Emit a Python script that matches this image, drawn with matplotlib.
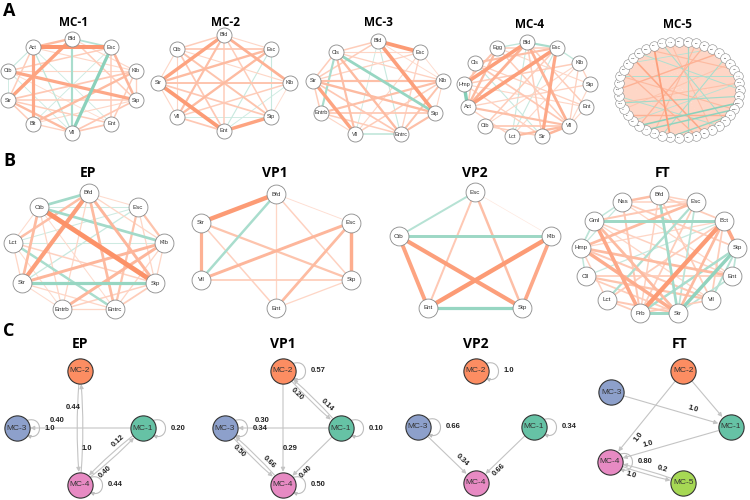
import numpy as np
import matplotlib.pyplot as plt
import matplotlib.colors as mcolors
from matplotlib.collections import LineCollection
from matplotlib.patches import FancyArrowPatch
from matplotlib.path import Path
from itertools import combinations

plt.rcParams['font.family'] = ['Liberation Sans', 'DejaVu Sans']
TITLE_FONT = ['Open Sans', 'DejaVu Sans']

POS_COL = '#fc8d62'
NEG_COL = '#66c2a5'
MC_COLORS = {'MC-1': '#66c2a5', 'MC-2': '#fc8d62', 'MC-3': '#8da0cb',
             'MC-4': '#e78ac3', 'MC-5': '#a6d854'}

# ---------------- A: 各微生物群落的共现网络 ----------------
mc1_nodes = ['Bfd', 'Esc', 'Klb', 'Stp', 'Ent', 'Vll', 'Blt', 'Str', 'Ctb', 'Act']
mc1_edges = [('Act', 'Esc', 0.9), ('Bfd', 'Str', 0.75), ('Act', 'Blt', 0.7), ('Ctb', 'Stp', 0.7),
             ('Esc', 'Vll', -0.7), ('Bfd', 'Vll', -0.45), ('Bfd', 'Esc', -0.35), ('Esc', 'Stp', 0.55),
             ('Str', 'Vll', 0.5), ('Klb', 'Blt', 0.5), ('Act', 'Bfd', 0.5), ('Str', 'Klb', 0.35),
             ('Act', 'Str', 0.3), ('Ctb', 'Esc', 0.3), ('Act', 'Vll', -0.25), ('Ctb', 'Act', -0.2),
             ('Str', 'Ent', 0.3), ('Stp', 'Vll', 0.35), ('Ent', 'Esc', 0.3), ('Blt', 'Vll', 0.25),
             ('Klb', 'Ent', 0.3), ('Klb', 'Stp', 0.25), ('Bfd', 'Stp', 0.3), ('Ctb', 'Vll', -0.15),
             ('Str', 'Stp', 0.3), ('Blt', 'Stp', 0.2), ('Ctb', 'Klb', 0.2), ('Act', 'Klb', 0.2),
             ('Act', 'Ent', -0.15), ('Str', 'Blt', 0.3), ('Ctb', 'Str', -0.15), ('Vll', 'Ent', 0.35),
             ('Blt', 'Esc', -0.15), ('Bfd', 'Klb', 0.2), ('Ctb', 'Ent', 0.15)]

mc2_nodes = ['Bfd', 'Esc', 'Klb', 'Stp', 'Ent', 'Vll', 'Str', 'Ctb']
mc2_edges = [('Bfd', 'Str', 0.75), ('Str', 'Ent', 0.85), ('Ent', 'Stp', 0.75), ('Bfd', 'Klb', 0.6),
             ('Str', 'Esc', 0.5), ('Str', 'Klb', 0.4), ('Ctb', 'Esc', 0.35), ('Ctb', 'Stp', 0.4),
             ('Ctb', 'Ent', 0.35), ('Vll', 'Bfd', 0.45), ('Vll', 'Esc', 0.5), ('Vll', 'Ent', 0.35),
             ('Bfd', 'Ent', 0.3), ('Ctb', 'Bfd', 0.3), ('Str', 'Stp', 0.35), ('Vll', 'Klb', 0.3),
             ('Esc', 'Stp', -0.2), ('Ent', 'Esc', -0.2), ('Vll', 'Stp', -0.15), ('Ctb', 'Klb', 0.2),
             ('Str', 'Vll', 0.2), ('Bfd', 'Esc', 0.2), ('Klb', 'Stp', 0.15), ('Ent', 'Klb', -0.15),
             ('Ctb', 'Vll', 0.2), ('Ctb', 'Str', 0.2), ('Bfd', 'Stp', 0.3)]

mc3_nodes = ['Bfd', 'Esc', 'Klb', 'Stp', 'Entrc', 'Vll', 'Entrb', 'Str', 'Cls']
mc3_edges = [('Bfd', 'Esc', 0.85), ('Bfd', 'Stp', 0.8), ('Cls', 'Stp', -0.6), ('Cls', 'Entrb', -0.45),
             ('Str', 'Vll', 0.75), ('Cls', 'Entrc', 0.5), ('Cls', 'Vll', 0.45), ('Str', 'Klb', 0.45),
             ('Str', 'Stp', 0.5), ('Entrb', 'Klb', 0.45), ('Vll', 'Entrc', -0.3), ('Entrc', 'Stp', 0.45),
             ('Cls', 'Klb', 0.25), ('Cls', 'Bfd', 0.3), ('Bfd', 'Entrc', -0.2), ('Bfd', 'Str', 0.3),
             ('Entrb', 'Stp', 0.35), ('Str', 'Entrb', 0.3), ('Str', 'Entrc', 0.35), ('Klb', 'Vll', 0.3),
             ('Esc', 'Entrc', 0.25), ('Esc', 'Str', 0.25), ('Cls', 'Str', 0.3), ('Bfd', 'Vll', -0.15),
             ('Esc', 'Klb', 0.15), ('Klb', 'Stp', 0.2), ('Entrb', 'Vll', 0.2), ('Esc', 'Vll', 0.2),
             ('Cls', 'Esc', 0.2), ('Bfd', 'Klb', 0.15), ('Entrb', 'Entrc', 0.3), ('Klb', 'Entrc', 0.4)]

mc4_nodes = ['Bfd', 'Esc', 'Klb', 'Stp', 'Ent', 'Vll', 'Str', 'Lct', 'Ctb', 'Act', 'Hmp', 'Cls', 'Egg']
mc4_edges = [('Hmp', 'Bfd', 0.8), ('Act', 'Esc', 0.8), ('Act', 'Bfd', 0.6), ('Hmp', 'Act', -0.75),
             ('Esc', 'Str', 0.7), ('Bfd', 'Vll', 0.6), ('Lct', 'Vll', 0.5), ('Str', 'Vll', 0.55),
             ('Bfd', 'Esc', -0.45), ('Egg', 'Act', 0.5), ('Cls', 'Esc', 0.45), ('Egg', 'Hmp', 0.4),
             ('Act', 'Vll', 0.45), ('Ctb', 'Vll', 0.35), ('Esc', 'Klb', -0.25), ('Klb', 'Stp', 0.25),
             ('Bfd', 'Ent', 0.3), ('Egg', 'Vll', 0.3), ('Cls', 'Vll', 0.35), ('Esc', 'Lct', -0.2),
             ('Bfd', 'Str', 0.3), ('Hmp', 'Klb', 0.3), ('Act', 'Stp', 0.25), ('Ctb', 'Esc', 0.3),
             ('Cls', 'Ent', 0.25), ('Egg', 'Stp', 0.2), ('Lct', 'Klb', 0.2), ('Ctb', 'Str', 0.3),
             ('Act', 'Lct', 0.25), ('Hmp', 'Ent', 0.2), ('Cls', 'Str', -0.2), ('Egg', 'Bfd', -0.25),
             ('Stp', 'Vll', 0.2), ('Ent', 'Vll', 0.2), ('Bfd', 'Lct', -0.2), ('Klb', 'Vll', 0.25),
             ('Egg', 'Esc', 0.3), ('Hmp', 'Str', 0.25), ('Ctb', 'Klb', 0.2), ('Cls', 'Act', 0.3)]

mc5_nodes = ['Bfd', 'Esc', 'Klb', 'Stp', 'Ent', 'Vll', 'Str', 'Lct', 'Ctb', 'Act', 'Hmp',
             'Cls', 'Egg', 'Entrb', 'Entrc', 'Bct', 'Nss', 'Gml', 'Cll', 'Prb', 'Blt', 'Rth',
             'Prv', 'Rmn', 'Fcl', 'Akk', 'Alt', 'Dlp', 'Pst', 'Srr', 'Ctr', 'Cmp', 'Crn', 'Fsb',
             'Lcn', 'Mgs', 'Ppt', 'Prt', 'Rsb', 'Snd', 'Sbd', 'Trp', 'Wss', 'Ach']
# 强相关边（节点序号），其余节点对为弱正相关
mc5_strong = [(41, 23, 0.8), (38, 19, 0.7), (5, 33, 0.6), (29, 15, 0.6), (3, 27, 0.55),
              (40, 8, 0.5), (36, 20, 0.55), (2, 25, 0.5), (43, 18, 0.45), (31, 10, 0.45),
              (7, 30, 0.4), (35, 14, 0.5), (13, 27, -0.7), (14, 26, -0.65), (12, 31, -0.5),
              (1, 21, -0.5), (42, 16, -0.45), (39, 11, -0.4), (6, 24, -0.45), (9, 35, -0.4),
              (15, 23, -0.6), (10, 28, -0.35), (4, 37, -0.35), (17, 32, -0.4)]
mc5_weak_weight = 0.2

# ---------------- B: 各时期的共现网络 ----------------
ep_nodes = ['Bfd', 'Esc', 'Klb', 'Stp', 'Entrc', 'Entrb', 'Str', 'Lct', 'Ctb']
ep_edges = [('Ctb', 'Stp', 0.95), ('Bfd', 'Str', 0.8), ('Ctb', 'Bfd', -0.5), ('Ctb', 'Klb', -0.5),
            ('Str', 'Stp', -0.6), ('Lct', 'Entrc', -0.45), ('Bfd', 'Stp', 0.55), ('Bfd', 'Entrc', 0.5),
            ('Str', 'Klb', 0.55), ('Entrb', 'Klb', 0.55), ('Ctb', 'Str', 0.5), ('Lct', 'Bfd', 0.45),
            ('Esc', 'Entrc', 0.4), ('Esc', 'Klb', 0.4), ('Lct', 'Stp', 0.25), ('Str', 'Esc', -0.2),
            ('Lct', 'Klb', -0.15), ('Str', 'Entrc', 0.2), ('Entrb', 'Stp', 0.25), ('Entrc', 'Stp', 0.3),
            ('Lct', 'Esc', -0.15), ('Ctb', 'Entrb', 0.2), ('Bfd', 'Esc', 0.15), ('Str', 'Entrb', 0.15),
            ('Lct', 'Str', 0.2), ('Entrb', 'Entrc', 0.2), ('Bfd', 'Entrb', 0.2), ('Ctb', 'Esc', -0.15),
            ('Lct', 'Ctb', 0.15), ('Bfd', 'Klb', 0.2), ('Klb', 'Stp', 0.2), ('Esc', 'Stp', 0.2),
            ('Klb', 'Entrc', 0.2), ('Lct', 'Entrb', 0.15), ('Ctb', 'Entrc', 0.15)]

vp1_nodes = ['Bfd', 'Esc', 'Stp', 'Ent', 'Vll', 'Str']
vp1_edges = [('Bfd', 'Str', 0.85), ('Str', 'Vll', 0.6), ('Esc', 'Stp', 0.65), ('Vll', 'Esc', 0.55),
             ('Ent', 'Esc', 0.5), ('Str', 'Stp', 0.4), ('Vll', 'Bfd', -0.45), ('Vll', 'Stp', 0.3),
             ('Bfd', 'Ent', 0.2), ('Bfd', 'Esc', 0.12), ('Bfd', 'Stp', 0.25), ('Str', 'Ent', 0.25),
             ('Ent', 'Stp', 0.2)]

vp2_nodes = ['Esc', 'Klb', 'Stp', 'Ent', 'Ctb']
vp2_edges = [('Ctb', 'Klb', -0.55), ('Ent', 'Stp', -0.6), ('Esc', 'Ctb', -0.35), ('Ctb', 'Ent', 0.75),
             ('Ctb', 'Stp', 0.8), ('Ent', 'Klb', 0.85), ('Klb', 'Stp', 0.7), ('Esc', 'Ent', 0.35),
             ('Esc', 'Stp', 0.45), ('Esc', 'Klb', 0.05)]

ft_nodes = ['Bfd', 'Esc', 'Bct', 'Stp', 'Ent', 'Vll', 'Str', 'Prb', 'Lct', 'Cll', 'Hmp', 'Gml', 'Nss']
ft_edges = [('Gml', 'Bct', -0.55), ('Bct', 'Prb', 0.85), ('Bct', 'Stp', 0.7), ('Gml', 'Prb', 0.7),
            ('Hmp', 'Str', 0.65), ('Hmp', 'Ent', 0.5), ('Stp', 'Str', -0.65), ('Stp', 'Prb', -0.45),
            ('Bfd', 'Str', -0.5), ('Esc', 'Hmp', 0.5), ('Esc', 'Lct', -0.4), ('Nss', 'Bfd', 0.45),
            ('Bct', 'Str', 0.5), ('Gml', 'Str', 0.5), ('Cll', 'Vll', 0.4), ('Prb', 'Str', -0.55),
            ('Lct', 'Str', 0.35), ('Hmp', 'Vll', 0.35), ('Nss', 'Stp', 0.3), ('Bfd', 'Bct', 0.3),
            ('Esc', 'Gml', 0.35), ('Gml', 'Hmp', -0.3), ('Vll', 'Stp', -0.35), ('Ent', 'Cll', 0.3),
            ('Nss', 'Prb', 0.35), ('Bfd', 'Vll', 0.3), ('Lct', 'Bct', 0.3), ('Hmp', 'Cll', -0.25),
            ('Nss', 'Gml', -0.25), ('Bct', 'Vll', 0.3), ('Ent', 'Str', -0.3), ('Esc', 'Prb', 0.3),
            ('Gml', 'Ent', 0.25), ('Cll', 'Str', 0.3), ('Nss', 'Hmp', -0.2), ('Bfd', 'Esc', 0.25),
            ('Nss', 'Esc', 0.25), ('Lct', 'Prb', 0.3), ('Hmp', 'Bct', 0.2), ('Stp', 'Ent', -0.3),
            ('Bfd', 'Prb', 0.25), ('Gml', 'Vll', 0.2), ('Cll', 'Bct', -0.2), ('Lct', 'Hmp', 0.25),
            ('Nss', 'Ent', 0.2), ('Esc', 'Str', -0.3), ('Prb', 'Vll', 0.3)]

# ---------------- C: 群落间转移概率 ----------------
ep_trans = [('MC-1', 'MC-1', '0.20'), ('MC-1', 'MC-3', '0.40'), ('MC-1', 'MC-4', '0.40'),
            ('MC-2', 'MC-4', '1.0'), ('MC-3', 'MC-3', '1.0'), ('MC-4', 'MC-4', '0.44'),
            ('MC-4', 'MC-2', '0.44'), ('MC-4', 'MC-1', '0.12')]
vp1_trans = [('MC-1', 'MC-1', '0.10'), ('MC-1', 'MC-2', '0.20'), ('MC-1', 'MC-3', '0.30'),
             ('MC-1', 'MC-4', '0.40'), ('MC-2', 'MC-2', '0.57'), ('MC-2', 'MC-1', '0.14'),
             ('MC-2', 'MC-4', '0.29'), ('MC-3', 'MC-3', '0.34'), ('MC-3', 'MC-4', '0.66'),
             ('MC-4', 'MC-4', '0.50'), ('MC-4', 'MC-3', '0.50')]
vp2_trans = [('MC-1', 'MC-1', '0.34'), ('MC-1', 'MC-4', '0.66'), ('MC-2', 'MC-2', '1.0'),
             ('MC-3', 'MC-3', '0.66'), ('MC-3', 'MC-4', '0.34')]
ft_trans = [('MC-2', 'MC-4', '1.0'), ('MC-2', 'MC-1', None), ('MC-3', 'MC-1', '1.0'),
            ('MC-1', 'MC-4', '1.0'), ('MC-4', 'MC-4', '0.80'), ('MC-4', 'MC-5', '0.2'),
            ('MC-5', 'MC-4', '1.0')]

diamond = {'MC-2': (0, 1), 'MC-1': (1, 0), 'MC-3': (-1, 0), 'MC-4': (0, -1)}
ft_layout = {'MC-2': (0.2, 1), 'MC-3': (-0.8, 0.62), 'MC-1': (0.86, 0),
             'MC-4': (-0.82, -0.62), 'MC-5': (0.2, -1)}


def edge_style(w, scale):
    t = min(abs(w), 1.0)
    base = np.array(mcolors.to_rgb(POS_COL if w > 0 else NEG_COL))
    a = 0.2 + 0.8 * t
    return 1 - (1 - base) * a, (0.2 + 3.0 * t) * scale


def circle_layout(nodes, cx, cy, rx, ry):
    ang = np.deg2rad(90 - 360 * np.arange(len(nodes)) / len(nodes))
    return {k: (cx + rx * np.cos(a), cy - ry * np.sin(a)) for k, a in zip(nodes, ang)}


def draw_cor_net(ax, nodes, edges, box, node_s, font, wscale=1.0, lw_node=0.6):
    pos = circle_layout(nodes, *box)
    segs, cols, lws = [], [], []
    for a, b, w in sorted(edges, key=lambda e: abs(e[2])):
        c, lw = edge_style(w, wscale)
        segs.append([pos[a], pos[b]])
        cols.append(c)
        lws.append(lw)
    ax.add_collection(LineCollection(segs, colors=cols, linewidths=lws, capstyle='butt', zorder=2))
    xs, ys = zip(*pos.values())
    ax.scatter(xs, ys, s=node_s, c='white', edgecolors='#8a8a8a', linewidths=lw_node, zorder=4)
    for k, (x, y) in pos.items():
        ax.text(x, y, k, fontsize=font, ha='center', va='center', color='#333333', zorder=5)


def draw_markov(ax, trans, layout, cx, cy, sx, sy):
    pos = {k: (cx + sx * u, cy - sy * v) for k, (u, v) in layout.items()}
    pairs = {(s, d) for s, d, _ in trans}
    r = 12.5
    for s, d, lab in trans:
        x1, y1 = pos[s]
        if s == d:
            verts = [(x1 + r * 0.8, y1 - r * 0.6), (x1 + r + 14, y1 - 13),
                     (x1 + r + 14, y1 + 13), (x1 + r * 0.8, y1 + r * 0.6)]
            path = Path(verts, [Path.MOVETO, Path.CURVE4, Path.CURVE4, Path.CURVE4])
            ax.add_patch(FancyArrowPatch(path=path, arrowstyle='-|>', mutation_scale=5,
                                         color='#bdbdbd', lw=0.8, zorder=2))
            ax.text(x1 + r + 15, y1, lab, ha='left', va='center', fontsize=5.5,
                    fontweight='bold', color='#222222')
            continue
        x2, y2 = pos[d]
        paired = (d, s) in pairs
        rad = 0.05 if paired else 0.0
        ax.add_patch(FancyArrowPatch((x1, y1), (x2, y2), arrowstyle='-|>', mutation_scale=6,
                                     connectionstyle=f'arc3,rad={rad}', shrinkA=9.5, shrinkB=9.5,
                                     color='#c4c4c4', lw=0.8, zorder=2))
        if lab is None:
            continue
        dx, dy = x2 - x1, y2 - y1
        L = np.hypot(dx, dy)
        hx, hy = dx / L, dy / L
        ang = np.degrees(np.arctan2(-dy, dx))
        if ang > 90:
            ang -= 180
        elif ang < -90:
            ang += 180
        # 标签偏移：成对边放在弯曲一侧，近水平单边放在上方
        if not paired and abs(ang) < 25:
            ox, oy = (0, -7)
        else:
            ox, oy = 7 * hy, -7 * hx
        t = 0.68
        lx, ly = x1 + t * dx + ox, y1 + t * dy + oy
        if abs(ang) > 65:
            ang = 0
        ax.text(lx, ly, lab, ha='center', va='center', rotation=ang, fontsize=5.5,
                fontweight='bold', color='#222222', zorder=3)
    for k, (x, y) in pos.items():
        ax.scatter(x, y, s=330, c=MC_COLORS[k], edgecolors='#333333', linewidths=0.8, zorder=4)
        ax.text(x, y, k, fontsize=6, ha='center', va='center', color='#333333', zorder=5)


fig = plt.figure(figsize=(7.5, 5), dpi=100)
ax = fig.add_axes([0, 0, 1, 1])
ax.set_xlim(0, 750)
ax.set_ylim(500, 0)
ax.axis('off')

# A
draw_cor_net(ax, mc1_nodes, mc1_edges, (72, 85.5, 67, 47), 117, 4)
draw_cor_net(ax, mc2_nodes, mc2_edges, (224, 83, 66, 48), 117, 4)
draw_cor_net(ax, mc3_nodes, mc3_edges, (378, 89, 66, 48), 117, 4)
draw_cor_net(ax, mc4_nodes, mc4_edges, (527, 90, 63.5, 47.7), 117, 4)
mc5_edges = [(mc5_nodes[i], mc5_nodes[j], w) for i, j, w in mc5_strong]
strong_pairs = {frozenset((i, j)) for i, j, _ in mc5_strong}
mc5_edges += [(mc5_nodes[i], mc5_nodes[j], mc5_weak_weight)
              for i, j in combinations(range(len(mc5_nodes)), 2)
              if frozenset((i, j)) not in strong_pairs]
draw_cor_net(ax, mc5_nodes, mc5_edges, (679, 89.5, 61, 48), 48, 1.7, wscale=0.5, lw_node=0.4)

# B
draw_cor_net(ax, ep_nodes, ep_edges, (88.5, 253, 77, 60), 185, 4.5, wscale=1.15)
draw_cor_net(ax, vp1_nodes, vp1_edges, (276, 251, 86.6, 57), 185, 4.5, wscale=1.15)
draw_cor_net(ax, vp2_nodes, vp2_edges, (475, 256, 80, 64), 185, 4.5, wscale=1.15)
draw_cor_net(ax, ft_nodes, ft_edges, (659, 255, 78.6, 60), 185, 4.5, wscale=1.15)

# C
draw_markov(ax, ep_trans, diamond, 80, 428, 63, 57)
draw_markov(ax, vp1_trans, diamond, 283, 428, 58, 57)
draw_markov(ax, vp2_trans, diamond, 476, 427, 58, 56)
draw_markov(ax, ft_trans, ft_layout, 669, 427, 72, 56)

# 标题
titles = [('MC-1', 73, 23), ('MC-2', 226, 23), ('MC-3', 378, 23), ('MC-4', 530, 24),
          ('MC-5', 678, 24)]
for name, x, y in titles:
    ax.text(x, y, name, ha='center', va='center', fontsize=8.5, fontweight='bold', family=TITLE_FONT)
for name, x in [('EP', 88), ('VP1', 275), ('VP2', 475), ('FT', 663)]:
    ax.text(x, 173, name, ha='center', va='center', fontsize=10, fontweight='bold', family=TITLE_FONT)
for name, x in [('EP', 80), ('VP1', 283), ('VP2', 476), ('FT', 680)]:
    ax.text(x, 344, name, ha='center', va='center', fontsize=10, fontweight='bold', family=TITLE_FONT)
for name, y in [('A', 11), ('B', 161), ('C', 331)]:
    ax.text(9, y, name, ha='center', va='center', fontsize=13, fontweight='bold', family=TITLE_FONT)

fig.savefig('out.png', dpi=100)
